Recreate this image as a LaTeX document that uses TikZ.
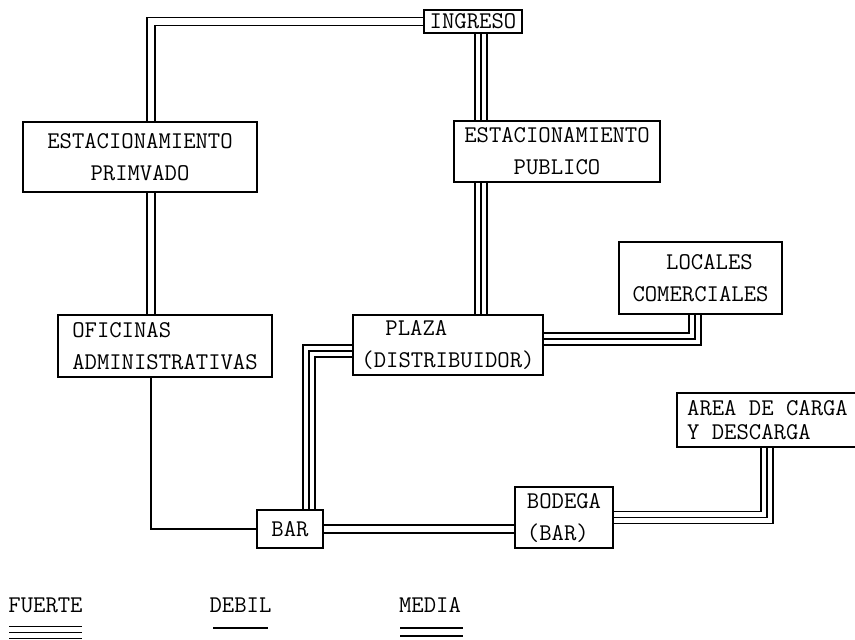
\documentclass[tikz,border=0pt]{standalone}
\usepackage{fontspec}
\usepackage{tikz}
\usetikzlibrary{backgrounds}

\newcommand{\boxfont}{\ttfamily\fontsize{24}{32}\selectfont}

\begin{document}
\begin{tikzpicture}[x=1pt, y=-1pt,
        caja/.style={draw, line width=1.2pt, font=\boxfont, inner sep=0pt},
        leyenda/.style={font=\boxfont, inner sep=0pt},
        debil/.style={line width=1.2pt},
        media/.style={line width=1.2pt, double, double distance=6.8pt},
        fuerte/.style={line width=1.2pt, double, double distance=10.8pt,
            postaction={draw, line width=1.2pt}}]
    \useasboundingbox (0,0) rectangle (855,640);

    % Draw the boxes
    \node[caja, minimum width=98pt, minimum height=23pt] (ingreso) at (473,21.5) {INGRESO};
    \node[caja, minimum width=234pt, minimum height=70pt, align=center] (priv) at (140,157)
        {ESTACIONAMIENTO\\PRIMVADO};
    \node[caja, minimum width=206pt, minimum height=61pt, align=center] (publico) at (557,151.5)
        {ESTACIONAMIENTO\\PUBLICO};
    \node[caja, minimum width=163pt, minimum height=72pt, align=center] (locales) at (700.5,278)
        {\hspace*{18pt}LOCALES\\COMERCIALES};
    \node[caja, minimum width=214pt, minimum height=62pt, align=left] (oficinas) at (165,346)
        {OFICINAS\\ADMINISTRATIVAS};
    \node[caja, minimum width=190pt, minimum height=60pt, align=left] (plaza) at (448,345)
        {\hspace*{24pt}PLAZA\\(DISTRIBUIDOR)};
    \node[caja, minimum width=181pt, minimum height=54pt, align=left] (area) at (767.5,420)
        {AREA DE CARGA\\[-8pt]Y DESCARGA};
    \node[caja, minimum width=98pt, minimum height=61pt, align=left] (bodega) at (564,517.5)
        {BODEGA\\(BAR)};
    \node[caja, minimum width=66pt, minimum height=38pt] (bar) at (290,529) {BAR};

    % columns of the links
    \coordinate (colP) at (151,0);
    \coordinate (colA) at (481,0);
    \coordinate (colB) at (309,0);
    \coordinate (colL) at (695,0);
    \coordinate (colC) at (767,0);

    % Draw the links
    \begin{scope}[on background layer]
        \draw[media]  (priv.north -| colP) |- (ingreso.west);
        \draw[fuerte] (ingreso.south -| colA) -- (publico.north -| colA);
        \draw[fuerte] (publico.south -| colA) -- (plaza.north -| colA);
        \draw[media]  (priv.south -| colP) -- (oficinas.north -| colP);
        \draw[debil]  (oficinas.south -| colP) |- (bar.west);
        \draw[fuerte] ([yshift=-6pt]plaza.west) -| (bar.north -| colB);
        \draw[fuerte] ([yshift=6pt]plaza.east) -| (locales.south -| colL);
        \draw[media]  (bar.east) -- (bar.east -| bodega.west);
        \draw[fuerte] (bodega.east) -| (area.south -| colC);
    \end{scope}

    % Legend
    \node[leyenda] (lfuerte) at (45.5,605) {FUERTE};
    \node[leyenda] (ldebil)  at (240.5,605) {DEBIL};
    \node[leyenda] (lmedia)  at (430,605) {MEDIA};
    \draw[fuerte] (9,632.5) -- (82,632.5);
    \draw[debil]  (213,628) -- (268,628);
    \draw[media]  (400,632) -- (463,632);
\end{tikzpicture}
\end{document}
